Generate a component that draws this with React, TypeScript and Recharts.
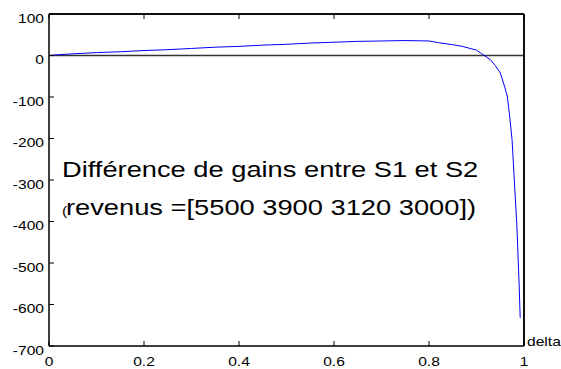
import { Line, LineChart, ReferenceLine, XAxis, YAxis } from 'recharts'

// delta values and the difference in gains
const deltas = [
  0, 0.02, 0.05, 0.1, 0.15, 0.2, 0.25, 0.3, 0.35, 0.4, 0.45, 0.5, 0.55, 0.6, 0.65, 0.7, 0.75, 0.8,
  0.82, 0.85, 0.87, 0.89, 0.9, 0.91, 0.92, 0.93, 0.94, 0.95, 0.96, 0.965, 0.97, 0.975, 0.98, 0.985,
  0.99, 0.992,
]
const gains = [
  0, 2, 4, 7, 9, 12, 14, 17, 20, 22, 25, 27, 30, 32, 34, 35, 36, 35, 31, 26, 22, 16, 13, 5, -3, -11,
  -25, -42, -78, -100, -148, -205, -310, -410, -560, -632,
]

const xTicks = [0, 0.2, 0.4, 0.6, 0.8, 1]
const yTicks = [-700, -600, -500, -400, -300, -200, -100, 0, 100]
const xDomain = [0, 1]
const yDomain = [-700, 100]

const title = 'Différence de gains entre S1 et S2'
const subtitle = 'revenus =[5500 3900 3120 3000])'

const data = deltas.map((d, i) => ({ delta: d, gain: gains[i] }))

const FONT = '"Liberation Sans", Arial, sans-serif'
// the picture is stretched horizontally, so the glyphs are widened a bit
const STRETCH = 1.2
const TITLE_STRETCH = 1.24
const TICK = 5

// matlab style: tick marks point into the box, drawn by the tick renderers
function XTick({ x, y, payload }: any) {
  return (
    <g transform={`translate(${x},${y})`}>
      <line x1={0} y1={0} x2={0} y2={-TICK} stroke="#000" />
      <text transform={`scale(${STRETCH},1)`} y={20} textAnchor="middle" fontSize={13} fontFamily={FONT} fill="#000">
        {payload.value}
      </text>
    </g>
  )
}

function TopTick({ x, y }: any) {
  return <line x1={x} y1={y} x2={x} y2={y + TICK} stroke="#000" />
}

function YTick({ x, y, payload }: any) {
  return (
    <g transform={`translate(${x},${y})`}>
      <line x1={0} y1={0} x2={TICK} y2={0} stroke="#000" />
      <text transform={`scale(${STRETCH},1)`} x={-5 / STRETCH} y={8.5} textAnchor="end" fontSize={13} fontFamily={FONT} fill="#000">
        {payload.value}
      </text>
    </g>
  )
}

function RightTick({ x, y }: any) {
  return <line x1={x} y1={y} x2={x - TICK} y2={y} stroke="#000" />
}

export default function App() {
  return (
    <div style={{ position: 'absolute', left: 0, top: 0, width: 561, height: 369, background: '#fff' }}>
      <LineChart width={561} height={369} data={data} margin={{ top: 13, right: 36, bottom: 0, left: 0 }}>
        <XAxis
          xAxisId="bottom"
          dataKey="delta"
          type="number"
          domain={xDomain}
          ticks={xTicks}
          height={23}
          tickSize={0}
          tickMargin={0}
          tickLine={false}
          tick={<XTick />}
          axisLine={{ stroke: '#000', strokeWidth: 1.5 }}
          interval={0}
        />
        <XAxis
          xAxisId="top"
          orientation="top"
          dataKey="delta"
          type="number"
          domain={xDomain}
          ticks={xTicks}
          height={1}
          tickSize={0}
          tickMargin={0}
          tickLine={false}
          tick={<TopTick />}
          axisLine={{ stroke: '#000', strokeWidth: 1.5 }}
          interval={0}
        />
        <YAxis
          yAxisId="left"
          type="number"
          domain={yDomain}
          ticks={yTicks}
          width={49}
          tickSize={0}
          tickMargin={0}
          tickLine={false}
          tick={<YTick />}
          axisLine={{ stroke: '#000', strokeWidth: 1.5 }}
          interval={0}
        />
        <YAxis
          yAxisId="right"
          orientation="right"
          type="number"
          domain={yDomain}
          ticks={yTicks}
          width={1}
          tickSize={0}
          tickMargin={0}
          tickLine={false}
          tick={<RightTick />}
          axisLine={{ stroke: '#000', strokeWidth: 1.5 }}
          interval={0}
        />
        {/* box edges on the top and right */}
        <ReferenceLine xAxisId="bottom" yAxisId="left" y={yDomain[1]} stroke="#000" strokeWidth={1.5} />
        <ReferenceLine xAxisId="bottom" yAxisId="left" x={xDomain[1]} stroke="#000" strokeWidth={1.5} />
        <ReferenceLine xAxisId="bottom" yAxisId="left" y={0} stroke="#333" strokeWidth={1.5} />
        <Line
          xAxisId="bottom"
          yAxisId="left"
          dataKey="gain"
          type="linear"
          stroke="#0000ff"
          strokeWidth={1}
          dot={false}
          isAnimationActive={false}
        />
      </LineChart>
      <svg
        width={561}
        height={369}
        style={{ position: 'absolute', left: 0, top: 0, pointerEvents: 'none' }}
      >
        <g transform="translate(62,177)">
          <text transform={`scale(${TITLE_STRETCH},1)`} fontSize={22} fontFamily={FONT} fill="#000">
            {title}
          </text>
        </g>
        <g transform="translate(62,215)">
          <text transform={`scale(${STRETCH},1)`} fontSize={13} fontFamily={FONT} fill="#000">
            (
          </text>
        </g>
        <g transform="translate(66,215)">
          <text transform={`scale(${TITLE_STRETCH},1)`} fontSize={22} fontFamily={FONT} fill="#000">
            {subtitle}
          </text>
        </g>
        <g transform="translate(527,346)">
          <text transform={`scale(${STRETCH},1)`} fontSize={13} fontFamily={FONT} fill="#000">
            delta
          </text>
        </g>
      </svg>
    </div>
  )
}
